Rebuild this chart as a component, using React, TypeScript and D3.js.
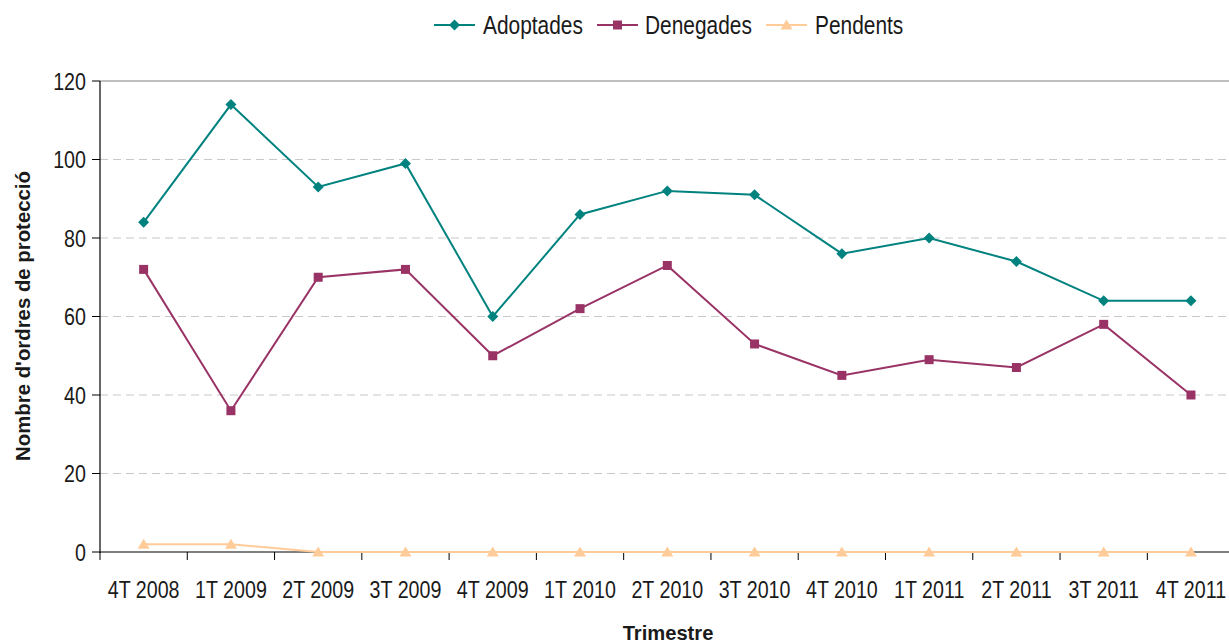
import React from "react";
import * as d3 from "d3";

const categories = ["4T 2008","1T 2009","2T 2009","3T 2009","4T 2009","1T 2010","2T 2010","3T 2010","4T 2010","1T 2011","2T 2011","3T 2011","4T 2011"];
const adoptades = [84,114,93,99,60,86,92,91,76,80,74,64,64];
const denegades = [72,36,70,72,50,62,73,53,45,49,47,58,40];
const pendents = [2,2,0,0,0,0,0,0,0,0,0,0,0];
const yTicks = [0,20,40,60,80,100,120];

const W = 1229, H = 643;
const FONT = "'Liberation Sans', Arial, sans-serif";

function T(props: { x: number; y: number; sx?: number; rot?: number; children: any; [k: string]: any }) {
  const { x, y, sx = 0.82, rot = 0, children, ...rest } = props;
  return (
    <text transform={`translate(${x},${y}) rotate(${rot}) scale(${sx},1)`} fill="#1a1a1a" {...rest}>{children}</text>
  );
}

export default function App() {
  const left = 100, right = 1234.6, top = 81, bottom = 552;
  const x = d3.scaleBand<string>().domain(categories).range([left, right]);
  const y = d3.scaleLinear().domain([0, 120]).range([bottom, top]);
  const cx = (c: string) => (x(c) as number) + x.bandwidth() / 2;
  const line = d3.line<number>().x((_, i) => cx(categories[i])).y(d => y(d));

  const series = [
    { name: "Adoptades", data: adoptades, color: "#00827F", shape: "diamond" },
    { name: "Denegades", data: denegades, color: "#993366", shape: "square" },
    { name: "Pendents", data: pendents, color: "#FFCC99", shape: "triangle" },
  ];

  const marker = (shape: string, px: number, py: number, color: string, key: any) => {
    if (shape === "diamond") {
      const s = 5.5;
      return <path key={key} d={`M${px},${py - s}L${px + s},${py}L${px},${py + s}L${px - s},${py}Z`} fill={color} />;
    }
    if (shape === "square") {
      return <rect key={key} x={px - 4.5} y={py - 4.5} width={9} height={9} fill={color} />;
    }
    return <path key={key} d={`M${px},${py - 5.5}L${px + 6},${py + 4.5}L${px - 6},${py + 4.5}Z`} fill={color} />;
  };

  const legendItems = [
    { s: series[0], lx: 434, tx: 483 },
    { s: series[1], lx: 597, tx: 645 },
    { s: series[2], lx: 766, tx: 815 },
  ];

  return (
    <svg width={W} height={H} style={{ position: "absolute", left: 0, top: 0, background: "#fff" }} fontFamily={FONT}>
      {yTicks.filter(t => t > 0 && t < 120).map(t => (
        <line key={t} x1={left} x2={W} y1={y(t)} y2={y(t)} stroke="#C8C8C8" strokeWidth={1} strokeDasharray="8,5" />
      ))}
      <line x1={left} x2={W} y1={y(120)} y2={y(120)} stroke="#808080" strokeWidth={1} />
      <line x1={left} x2={left} y1={top} y2={bottom + 1} stroke="#000" strokeWidth={1.2} />
      {yTicks.map(t => (
        <g key={t}>
          <line x1={left - 8} x2={left} y1={y(t)} y2={y(t)} stroke="#000" />
          <T x={left - 14} y={y(t) + 8.5} textAnchor="end" fontSize={24}>{t}</T>
        </g>
      ))}
      <line x1={left} x2={W} y1={bottom} y2={bottom} stroke="#000" strokeWidth={1.2} />
      {categories.map((c, i) => (
        <line key={"t" + i} x1={x(c) as number} x2={x(c) as number} y1={bottom} y2={bottom + 8} stroke="#000" />
      ))}
      {categories.map(c => (
        <T key={c} x={cx(c)} y={598} textAnchor="middle" fontSize={24}>{c}</T>
      ))}
      {series.slice().reverse().map(s => (
        <g key={s.name}>
          <path d={line(s.data) || ""} fill="none" stroke={s.color} strokeWidth={2} />
          {s.data.map((v, i) => marker(s.shape, cx(categories[i]), y(v), s.color, i))}
        </g>
      ))}
      <T x={668} y={640} sx={0.96} textAnchor="middle" fontSize={21} fontWeight="bold">Trimestre</T>
      <T x={30} y={316} sx={0.97} rot={-90} textAnchor="middle" fontSize={21} fontWeight="bold">Nombre d'ordres de protecció</T>
      {legendItems.map(({ s, lx, tx }) => (
        <g key={s.name}>
          <line x1={lx} x2={lx + 41} y1={25} y2={25} stroke={s.color} strokeWidth={2} />
          {marker(s.shape, lx + 20.5, 25, s.color, "m")}
          <T x={tx} y={34} fontSize={25.5}>{s.name}</T>
        </g>
      ))}
    </svg>
  );
}
